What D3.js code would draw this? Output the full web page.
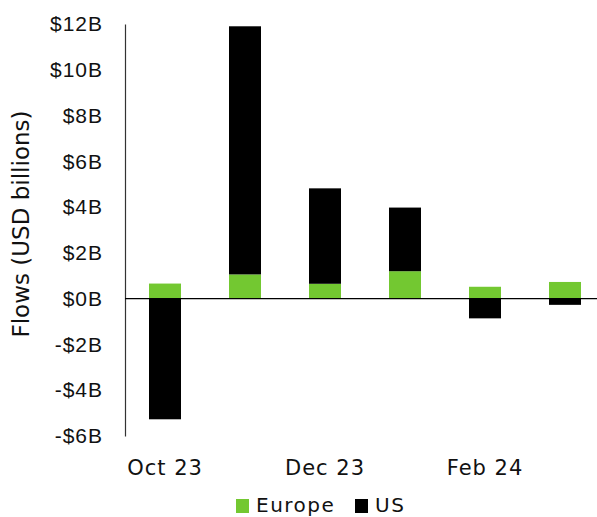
<!DOCTYPE html>
<html>
<head>
<meta charset="utf-8">
<script src="https://cdn.jsdelivr.net/npm/d3@7"></script>
<style>
  body { margin: 0; background: #fff; }
  svg { font-family: "DejaVu Sans", "Noto Sans", sans-serif; }
</style>
</head>
<body>
<div id="chart"></div>
<script>
// data
const months = ["Oct 23", "Nov 23", "Dec 23", "Jan 24", "Feb 24", "Mar 24"];
const shownLabels = ["Oct 23", "Dec 23", "Feb 24"];
const europe = [0.66, 1.06, 0.65, 1.2, 0.52, 0.73];
const us = [-5.27, 10.84, 4.17, 2.78, -0.86, -0.27];
const yTicks = [-6, -4, -2, 0, 2, 4, 6, 8, 10, 12];
const seriesNames = ["Europe", "US"];
const colors = ["#73c831", "#000000"];

const width = 597, height = 517;
const plotLeft = 125;

const svg = d3.select("#chart").append("svg")
    .attr("width", width)
    .attr("height", height);

// each month is 80px wide, bars 32px
const x = d3.scaleBand()
    .domain(months)
    .range([plotLeft, plotLeft + 480])
    .paddingInner(0.6)
    .paddingOuter(0.3);

const y = d3.scaleLinear()
    .domain([-6, 12])
    .range([436, 24]);

// stack: positives go up from 0, negatives go down from 0
const rows = months.map((m, i) => {
    let pos = 0, neg = 0;
    return [europe[i], us[i]].map((v, k) => {
        let y0, y1;
        if (v >= 0) { y0 = pos; y1 = pos + v; pos = y1; }
        else { y0 = neg; y1 = neg + v; neg = y1; }
        return { month: m, series: k, y0, y1 };
    });
}).flat();

svg.append("g")
    .selectAll("rect")
    .data(rows)
    .join("rect")
    .attr("x", d => x(d.month))
    .attr("width", x.bandwidth())
    .attr("y", d => y(Math.max(d.y0, d.y1)))
    .attr("height", d => Math.abs(y(d.y0) - y(d.y1)))
    .attr("fill", d => colors[d.series]);

// y axis
const yAxis = svg.append("g")
    .attr("transform", `translate(${plotLeft},0)`)
    .call(d3.axisLeft(y).tickValues(yTicks).tickSize(0).tickPadding(22)
        .tickFormat(d => (d < 0 ? "-$" : "$") + Math.abs(d) + "B"));
yAxis.select(".domain").attr("stroke", "#333").attr("stroke-width", 1.2);
yAxis.selectAll("text")
    .attr("font-size", 21)
    .attr("letter-spacing", 1)
    .attr("fill", "#111");

// zero line
svg.append("line")
    .attr("x1", plotLeft).attr("x2", width)
    .attr("y1", y(0)).attr("y2", y(0))
    .attr("stroke", "#000").attr("stroke-width", 1.3);

// x labels
svg.append("g")
    .selectAll("text")
    .data(shownLabels)
    .join("text")
    .attr("x", d => x(d) + x.bandwidth() / 2)
    .attr("y", 475)
    .attr("text-anchor", "middle")
    .attr("font-size", 21)
    .attr("letter-spacing", 1)
    .attr("fill", "#111")
    .text(d => d);

// y title
svg.append("text")
    .attr("transform", "translate(29,224) rotate(-90)")
    .attr("text-anchor", "middle")
    .attr("font-size", 23)
    .attr("fill", "#111")
    .text("Flows (USD billions)");

// legend
const legend = svg.append("g").attr("transform", "translate(236,499)");
const legendX = [0, 119];
seriesNames.forEach((name, i) => {
    legend.append("rect")
        .attr("x", legendX[i]).attr("y", 0)
        .attr("width", 13).attr("height", 14)
        .attr("fill", colors[i]);
    legend.append("text")
        .attr("x", legendX[i] + 20).attr("y", 13)
        .attr("font-size", 20)
        .attr("letter-spacing", 1.5)
        .attr("fill", "#111")
        .text(name);
});
</script>
</body>
</html>
